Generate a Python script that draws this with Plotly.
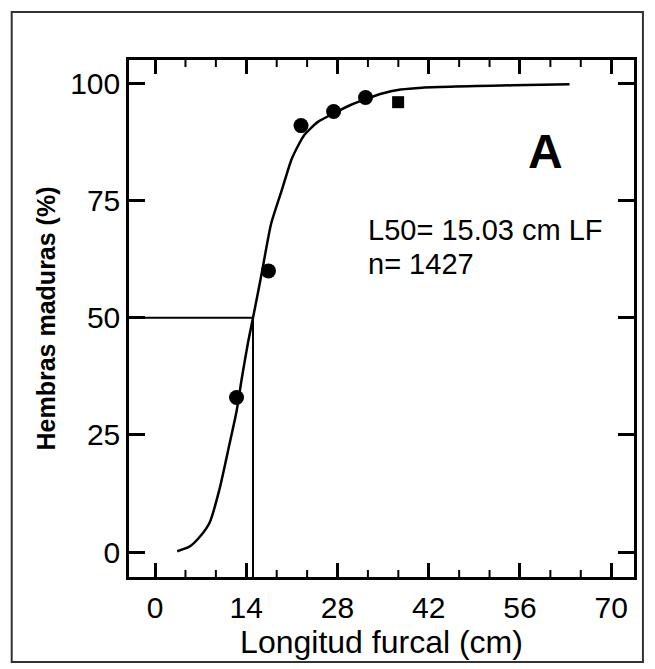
import plotly.graph_objects as go

# Fitted maturity curve
curve_x = [3.4, 5.3, 7.0, 8.4, 9.9, 11.4, 12.5, 13.3, 14.3, 15.03, 16.3, 17.8, 19.4, 21.0, 22.9, 25.0, 27.4, 30.0, 32.6, 35.0, 37.7, 41.0, 54.9, 63.6]
curve_y = [0.2, 1.2, 3.5, 6.4, 13.5, 22.9, 30.0, 37.0, 45.0, 50.0, 59.0, 70.0, 77.0, 84.0, 89.0, 91.8, 93.6, 95.4, 96.8, 97.9, 98.7, 99.1, 99.6, 99.8]

# Observed proportions
obs_x = [12.5, 17.4, 22.4, 27.4, 32.3]
obs_y = [33, 60, 91, 94, 97]
sq_x = [37.3]
sq_y = [96]

L50 = 15.03
x_ticks = [0, 14, 28, 42, 56, 70]
x_minor_ticks = [14 / 3, 28 / 3, 14 + 14 / 3, 14 + 28 / 3, 28 + 14 / 3, 28 + 28 / 3,
                 42 + 14 / 3, 42 + 28 / 3, 56 + 14 / 3, 56 + 28 / 3]
y_ticks = [0, 25, 50, 75, 100]
x_range = [-4, 73.5]
y_range = [-5.3, 105]

# figure pixel layout (page body adds 8px offset)
W, H = 641, 655
L, R, T, B = 121, 12, 52, 86
PW, PH = W - L - R, H - T - B
MINOR_LEN = 7 / PH  # minor tick length as a fraction of plot height

fig = go.Figure()
fig.add_trace(go.Scatter(x=curve_x, y=curve_y, mode="lines",
                         line=dict(color="black", width=2.5, shape="spline", smoothing=0.6),
                         showlegend=False))
# L50 reference lines
fig.add_trace(go.Scatter(x=[x_range[0], L50, L50], y=[50, 50, y_range[0]], mode="lines",
                         line=dict(color="black", width=2), showlegend=False))
fig.add_trace(go.Scatter(x=obs_x, y=obs_y, mode="markers",
                         marker=dict(color="black", size=15, symbol="circle"), showlegend=False))
fig.add_trace(go.Scatter(x=sq_x, y=sq_y, mode="markers",
                         marker=dict(color="black", size=12, symbol="square"), showlegend=False))

# minor x ticks on bottom and top edges
for v in x_minor_ticks:
    fig.add_shape(type="line", xref="x", yref="y domain", x0=v, x1=v, y0=0, y1=MINOR_LEN,
                  line=dict(color="black", width=2))
    fig.add_shape(type="line", xref="x", yref="y domain", x0=v, x1=v, y0=1 - MINOR_LEN, y1=1,
                  line=dict(color="black", width=2))

fig.add_annotation(x=32.3, y=68.8, xref="x", yref="y", text="L50= 15.03 cm LF", showarrow=False,
                   xanchor="left", yanchor="middle", font=dict(family="Arial", size=29, color="black"))
fig.add_annotation(x=32.3, y=61.5, xref="x", yref="y", text="n= 1427", showarrow=False,
                   xanchor="left", yanchor="middle", font=dict(family="Arial", size=29, color="black"))
fig.add_annotation(x=59.9, y=85.5, xref="x", yref="y", text="<b>A</b>", showarrow=False,
                   xanchor="center", yanchor="middle", font=dict(family="Arial", size=48, color="black"))

# outer frame
fig.add_shape(type="rect", xref="paper", yref="paper",
              x0=(3 - L) / PW, x1=(638 - L) / PW,
              y0=(T + PH - 654) / PH, y1=(T + PH - 4) / PH,
              line=dict(color="#333333", width=2), layer="below")

fig.update_layout(
    width=W, height=H,
    margin=dict(l=L, r=R, t=T, b=B),
    paper_bgcolor="white", plot_bgcolor="white",
    font=dict(family="Arial", color="black"),
)
fig.update_xaxes(range=x_range, tickmode="array", tickvals=x_ticks, ticks="inside", ticklen=14,
                 tickwidth=2.5, tickcolor="black", showline=True, linewidth=2.5, linecolor="black",
                 mirror="ticks", showgrid=False, zeroline=False,
                 tickfont=dict(size=30, family="Arial"), ticklabelstandoff=2,
                 title=dict(text="Longitud furcal (cm)", font=dict(size=32, family="Arial"), standoff=0))
fig.update_yaxes(range=y_range, tickvals=y_ticks, ticks="inside", ticklen=16, tickwidth=2.5,
                 tickcolor="black", showline=True, linewidth=2.5, linecolor="black", mirror="ticks",
                 showgrid=False, zeroline=False, tickfont=dict(size=30, family="Arial"),
                 ticklabelstandoff=0,
                 title=dict(text="<b>Hembras maduras (%)</b>", font=dict(size=25, family="Arial"), standoff=8))

fig.write_html("out.html")
